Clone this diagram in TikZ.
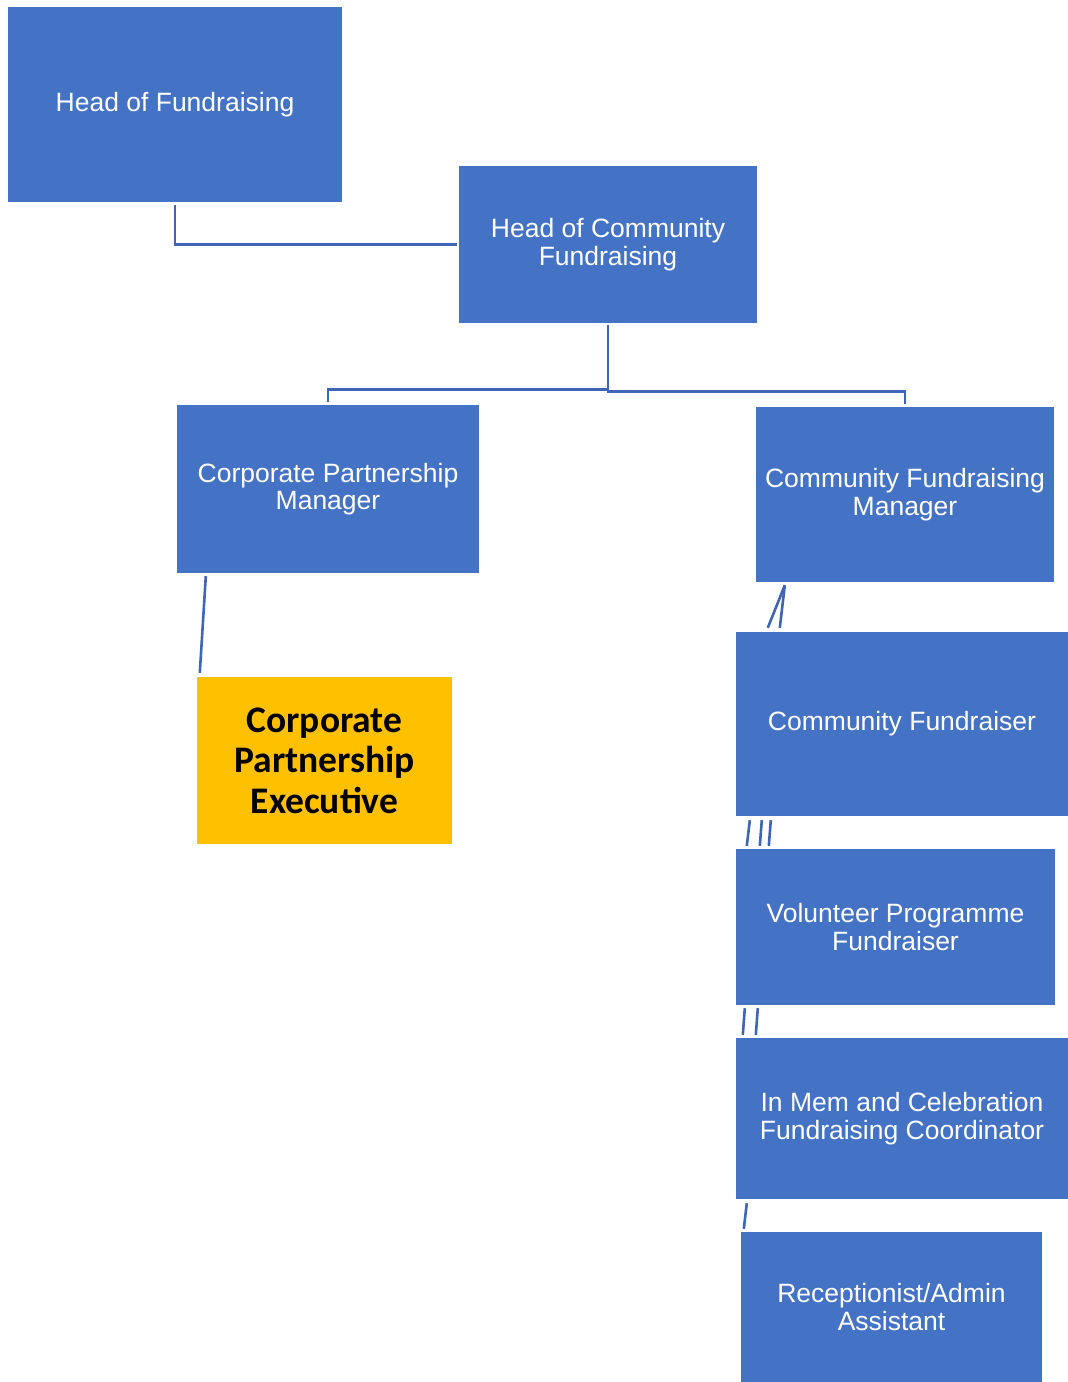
\documentclass[tikz,border=0pt]{standalone}
\usepackage{fontspec}
\setmainfont{Liberation Sans}
\newfontfamily\calfont{Carlito}
\usetikzlibrary{calc}
\definecolor{boxcol}{RGB}{68,114,196}
\definecolor{linecol}{RGB}{62,102,180}
\definecolor{hicol}{RGB}{255,192,0}

\begin{document}
\begin{tikzpicture}[x=1pt,y=-1pt,
  role/.style={fill=boxcol,text=white,align=center,inner sep=0pt,
    font=\fontsize{26.5}{27.5}\selectfont},
  hirole/.style={fill=hicol,text=black,align=center,inner sep=0pt,
    font=\calfont\bfseries\fontsize{37.5}{40.5}\selectfont},
  link/.style={draw=linecol,line width=2.6pt}]
\useasboundingbox (0,0) rectangle (1068,1382);
% boxes
\node[role,minimum width=334pt,minimum height=195pt] (hof) at (175,104.5) {Head of Fundraising};
\node[role,minimum width=298pt,minimum height=157pt] (hocf) at (608,244.5) {Head of Community\\Fundraising};
\node[role,minimum width=302pt,minimum height=168pt] (cpm) at (328,489) {Corporate Partnership\\Manager};
\node[role,minimum width=298pt,minimum height=175pt] (cfm) at (905,494.5) {Community Fundraising\\Manager};
\node[hirole,minimum width=255pt,minimum height=167pt] (cpe) at (324.5,760.5) {Corporate\\Partnership\\Executive};
\node[role,minimum width=332pt,minimum height=184pt] (cf) at (902,724) {Community Fundraiser};
\node[role,minimum width=319pt,minimum height=156pt] (vpf) at (895.5,927) {Volunteer Programme\\Fundraiser};
\node[role,minimum width=332pt,minimum height=161pt] (imc) at (902,1118.5) {In Mem and Celebration\\Fundraising Coordinator};
\node[role,minimum width=301pt,minimum height=150pt] (raa) at (891.5,1307) {Receptionist/Admin\\Assistant};
% top links
\draw[link] ($(hof.south)+(0,3)$) |- ($(hocf.west)+(-2,0)$);
\draw[link] ($(hocf.south)+(0,2)$) -- ++(0,64) -| ($(cpm.north)+(0,-3)$);
\draw[link] ($(hocf.south)+(0,2)$) -- ++(0,66) -| ($(cfm.north)+(0,-3)$);
% lower links
\draw[link] ($(cpm.south west)+(29,3)$) -- ($(cpe.north west)+(3,-4)$);
\draw[link] ($(cfm.south west)+(29,3)$) -- ($(cf.north west)+(32,-4)$);
\draw[link] ($(cfm.south west)+(29,3)$) -- ($(cf.north west)+(44,-4)$);
\draw[link] ($(cf.south west)+(14,4)$) -- ($(vpf.north west)+(11,-3)$);
\draw[link] ($(cf.south west)+(26,4)$) -- ($(vpf.north west)+(24,-3)$);
\draw[link] ($(cf.south west)+(35,4)$) -- ($(vpf.north west)+(33,-3)$);
\draw[link] ($(vpf.south west)+(9,3)$) -- ($(imc.north west)+(7,-3)$);
\draw[link] ($(vpf.south west)+(22,3)$) -- ($(imc.north west)+(20,-3)$);
\draw[link] ($(imc.south west)+(11,4)$) -- ($(raa.north west)+(3,-3)$);
\end{tikzpicture}
\end{document}
